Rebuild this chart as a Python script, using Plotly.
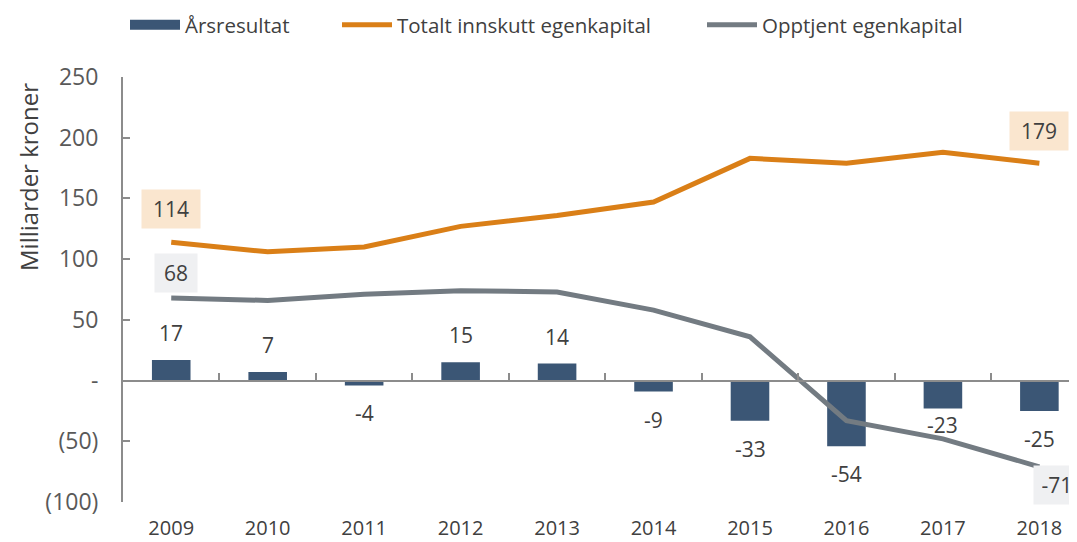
import plotly.graph_objects as go

years = ["2009", "2010", "2011", "2012", "2013", "2014", "2015", "2016", "2017", "2018"]
arsresultat = [17, 7, -4, 15, 14, -9, -33, -54, -23, -25]
innskutt = [114, 106, 110, 127, 136, 147, 183, 179, 188, 179]
opptjent = [68, 66, 71, 74, 73, 58, 36, -33, -48, -71]
ytickvals = [-100, -50, 0, 50, 100, 150, 200, 250]
yticktext = ["(100)", "(50)", "-", "50", "100", "150", "200", "250"]

FONT = "Open Sans"
FS = 20.5
TXT = "#404040"
AX = "#8C8C8C"
BLUE = "#3B5675"
ORANGE = "#DA7F17"
GREY = "#737B82"

# page body has an 8px margin; the figure is sized to fill the rest of the 1077x542 window
W, H = 1069, 534
L, T, B = 115, 69, 40

fig = go.Figure()
fig.add_trace(go.Bar(x=years, y=arsresultat, name="Årsresultat", marker_color=BLUE,
                     marker_line_width=0, width=0.4, showlegend=False))
# legend proxy for the bar series (wide swatch like the original)
fig.add_trace(go.Scatter(x=[None], y=[None], name="Årsresultat", mode="lines",
                         line=dict(color=BLUE, width=14), legend="legend"))
fig.add_trace(go.Scatter(x=years, y=innskutt, name="Totalt innskutt egenkapital", mode="lines",
                         line=dict(color=ORANGE, width=5), legend="legend2"))
fig.add_trace(go.Scatter(x=years, y=opptjent, name="Opptjent egenkapital", mode="lines",
                         line=dict(color=GREY, width=5), legend="legend3"))
# invisible trace for the zero-line axis with boundary ticks
fig.add_trace(go.Scatter(x=years, y=arsresultat, xaxis="x2", mode="markers",
                         marker=dict(opacity=0), showlegend=False, hoverinfo="skip"))

annotations = []
for i, v in enumerate(arsresultat):
    shift = 27 if v >= 0 else -28
    if years[i] == "2017":
        shift = -16
    annotations.append(dict(x=i, y=v, xref="x", yref="y", text=str(v), showarrow=False,
                            yshift=shift, font=dict(family=FONT, size=21, color=TXT)))

def boxlab(idx, series, bg, xs, ys, w):
    annotations.append(dict(x=idx, y=series[idx], xref="x", yref="y", text=str(series[idx]),
                            showarrow=False, xshift=xs, yshift=ys, bgcolor=bg, width=w,
                            height=22, borderpad=8,
                            font=dict(family=FONT, size=21, color=TXT)))

last = len(years) - 1
boxlab(0, innskutt, "#FAE6CF", 0, 33, 42)
boxlab(last, innskutt, "#FAE6CF", 0, 32, 42)
boxlab(0, opptjent, "#EFF0F2", 5, 25, 26)
boxlab(last, opptjent, "#EFF0F2", 18, -18, 30)

plot_h = H - T - B
annotations.append(dict(xref="paper", yref="paper",
                        x=(28 - 8 - L) / (W - L), y=(plot_h - (177 - 8 - T)) / plot_h,
                        xanchor="center", yanchor="middle",
                        text="Milliarder kroner", textangle=-90, showarrow=False,
                        font=dict(family=FONT, size=24, color=TXT)))

def leg(x_px):
    return dict(orientation="h", x=(x_px - 8) / W, xanchor="left", xref="container",
                y=1 - (25 - 8) / H, yanchor="middle", yref="container",
                itemwidth=50, font=dict(family=FONT, size=FS, color=TXT),
                bgcolor="rgba(0,0,0,0)")

ymin, ymax = -100, 250
fig.update_layout(
    width=W, height=H,
    margin=dict(l=L, r=0, t=T, b=B, pad=0, autoexpand=False),
    paper_bgcolor="white", plot_bgcolor="white",
    font=dict(family=FONT, size=FS, color=TXT),
    showlegend=True,
    legend=leg(125),
    legend2=leg(337),
    legend3=leg(702),
    xaxis=dict(type="category", range=[-0.5, 9.39], showline=False, ticks="",
               showgrid=False, zeroline=False, ticklabelstandoff=12, automargin=False,
               tickfont=dict(family=FONT, size=20, color=TXT)),
    xaxis2=dict(type="category", overlaying="x", matches="x", anchor="free",
                position=(0 - ymin) / (ymax - ymin), side="bottom",
                showline=True, linecolor=AX, linewidth=2, automargin=False,
                ticks="inside", tickson="boundaries", ticklen=7, tickcolor=AX, tickwidth=2,
                showticklabels=False, showgrid=False, zeroline=False),
    yaxis=dict(range=[ymin, ymax], tickvals=ytickvals, ticktext=yticktext,
               showline=True, linecolor=AX, linewidth=2, automargin=False,
               ticks="inside", ticklen=7, tickcolor=AX, tickwidth=2,
               showgrid=False, zeroline=False, ticklabelstandoff=18,
               tickfont=dict(family=FONT, size=23, color="#595959")),
    annotations=annotations,
)

fig.write_html("out.html")
